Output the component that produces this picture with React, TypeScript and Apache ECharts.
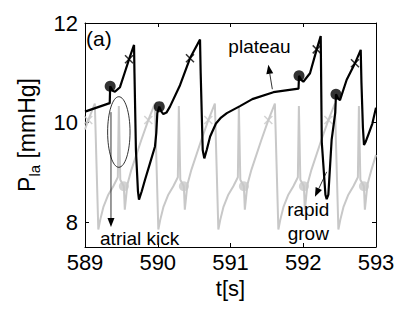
import React, { useEffect, useRef } from 'react';
import * as echarts from 'echarts';

const FONT = '"Liberation Sans", Arial, Helvetica, sans-serif';

const xTicks = [589, 590, 591, 592, 593];
const yTicks = [8, 10, 12];
const xLabel = 't[s]';

// black trace: [t (s), P_la (mmHg)]
const blackLine: number[][] = [
  [589.000, 10.22], [589.340, 10.39], [589.346, 10.73], [589.380, 10.64], [589.412, 10.62],
  [589.481, 10.71], [589.550, 11.02], [589.605, 11.27], [589.674, 11.56], [589.680, 11.00],
  [589.700, 9.45], [589.728, 8.62], [589.742, 8.45], [589.780, 8.62], [589.825, 8.85],
  [589.893, 9.18], [589.962, 9.52], [589.980, 9.79], [589.994, 10.19], [590.021, 10.32],
  [590.050, 10.22], [590.077, 10.17], [590.120, 10.20], [590.168, 10.32], [590.306, 10.75],
  [590.443, 11.29], [590.581, 11.67], [590.590, 11.00], [590.618, 9.45], [590.640, 9.28],
  [590.673, 9.45], [590.720, 9.72], [590.800, 9.98], [590.870, 10.10], [590.950, 10.19],
  [591.130, 10.33], [591.300, 10.47], [591.590, 10.61], [591.935, 10.68], [591.942, 10.94],
  [591.975, 10.85], [592.001, 10.82], [592.093, 10.99], [592.185, 11.47], [592.240, 11.74],
  [592.255, 9.60], [592.305, 8.55], [592.322, 8.46], [592.345, 8.55], [592.390, 9.65],
  [592.440, 10.20], [592.450, 10.57], [592.480, 10.48], [592.505, 10.45], [592.597, 10.86],
  [592.711, 11.19], [592.790, 11.46], [592.800, 10.80], [592.820, 9.90], [592.835, 9.55],
  [592.860, 9.62], [592.900, 9.78], [592.950, 9.98], [593.000, 10.30],
];
const blackDots: number[][] = [[589.346, 10.73], [590.021, 10.32], [591.942, 10.94], [592.450, 10.57]];
const blackCrosses: number[][] = [[589.605, 11.27], [590.443, 11.29], [592.185, 11.47], [592.711, 11.19]];

// gray trace
const grayLine: number[][] = [
  [589.000, 9.86], [589.045, 10.05], [589.135, 10.38],
  [589.183, 7.85], [589.210, 8.05], [589.252, 8.30], [589.320, 8.55], [589.389, 8.72], [589.451, 8.90],
  [589.465, 10.33], [589.485, 8.85], [589.534, 8.72], [589.547, 8.25], [589.582, 8.75], [589.637, 9.05],
  [589.774, 9.65], [589.870, 10.05], [589.960, 10.38],
  [590.008, 7.85], [590.035, 8.05], [590.077, 8.30], [590.145, 8.55], [590.214, 8.72], [590.276, 8.90],
  [590.290, 10.33], [590.310, 8.85], [590.359, 8.72], [590.372, 8.25], [590.407, 8.75], [590.462, 9.05],
  [590.599, 9.65], [590.695, 10.05], [590.785, 10.38],
  [590.833, 7.85], [590.860, 8.05], [590.902, 8.30], [590.970, 8.55], [591.039, 8.72], [591.101, 8.90],
  [591.115, 10.33], [591.135, 8.85], [591.184, 8.72], [591.197, 8.25], [591.232, 8.75], [591.287, 9.05],
  [591.424, 9.65], [591.520, 10.05], [591.610, 10.38],
  [591.658, 7.85], [591.685, 8.05], [591.727, 8.30], [591.795, 8.55], [591.864, 8.72], [591.926, 8.90],
  [591.940, 10.33], [591.960, 8.85], [592.009, 8.72], [592.022, 8.25], [592.057, 8.75], [592.112, 9.05],
  [592.249, 9.65], [592.345, 10.05], [592.435, 10.38],
  [592.483, 7.85], [592.510, 8.05], [592.552, 8.30], [592.620, 8.55], [592.689, 8.72], [592.751, 8.90],
  [592.765, 10.33], [592.785, 8.85], [592.834, 8.72], [592.847, 8.25], [592.882, 8.75], [592.937, 9.05],
  [593.000, 9.35],
];
const grayDots: number[][] = [[589.534, 8.72], [590.359, 8.72], [591.184, 8.72], [592.009, 8.72], [592.834, 8.72]];
const grayCrosses: number[][] = [[589.045, 10.05], [589.870, 10.05], [590.695, 10.05], [591.520, 10.05], [592.345, 10.05]];

// annotations (data coordinates)
const labelTexts = ['(a)', 'plateau', 'atrial kick', 'rapid', 'grow'];
const labelAnchors: number[][] = [[589.014, 11.68], [591.399, 11.52], [589.751, 7.68], [592.069, 8.26], [592.069, 7.78]];
const labelAligns = ['left', 'center', 'center', 'center', 'center'];
const arrowStarts: number[][] = [[591.575, 10.67], [589.357, 10.21], [592.322, 9.01]];
const arrowEnds: number[][] = [[591.520, 11.16], [589.357, 7.90], [592.161, 8.51]];
const ellipseCenter = [589.465, 9.81];
const ellipseHalf = [0.154, 0.709];

const GRAY = '#c8c8c8';
const CROSS = 'path://M0 0L10 10M10 0L0 10';

export default function App() {
  const ref = useRef<HTMLDivElement>(null);
  useEffect(() => {
    if (!ref.current) return;
    const chart = echarts.init(ref.current, null, { renderer: 'svg' });
    const axisLine = { show: true, onZero: false, lineStyle: { color: '#000', width: 1 } };
    const tick = { show: true, inside: true, length: 4, lineStyle: { color: '#000', width: 1 } };
    chart.setOption({
      animation: false,
      backgroundColor: '#fff',
      grid: { left: 85, top: 23, right: 39, bottom: 66, containLabel: false },
      xAxis: [
        {
          type: 'value', min: xTicks[0], max: xTicks[xTicks.length - 1], interval: 1, position: 'bottom',
          axisLine, axisTick: tick, splitLine: { show: false },
          axisLabel: { color: '#000', fontSize: 22, fontFamily: FONT, margin: 4 },
          name: xLabel, nameLocation: 'middle', nameGap: 27,
          nameTextStyle: { color: '#000', fontSize: 22, fontFamily: FONT },
        },
        {
          type: 'value', min: xTicks[0], max: xTicks[xTicks.length - 1], interval: 1, position: 'top',
          axisLine, axisTick: tick, splitLine: { show: false }, axisLabel: { show: false },
        },
      ],
      yAxis: [
        {
          type: 'value', min: 7.5, max: 12, position: 'left',
          axisLine, axisTick: { ...tick, customValues: yTicks }, splitLine: { show: false },
          axisLabel: { customValues: yTicks, color: '#000', fontSize: 22, fontFamily: FONT, margin: 7 },
          name: '{a|P}{b|la}{a| [mmHg]}', nameLocation: 'middle', nameGap: 43,
          nameTextStyle: {
            color: '#000', fontFamily: FONT,
            rich: {
              a: { fontSize: 23, lineHeight: 30, fontFamily: FONT, color: '#000' },
              b: { fontSize: 15, lineHeight: 15, verticalAlign: 'bottom', fontFamily: FONT, color: '#000' },
            },
          },
        },
        {
          type: 'value', min: 7.5, max: 12, position: 'right',
          axisLine, axisTick: { ...tick, customValues: yTicks }, splitLine: { show: false },
          axisLabel: { show: false },
        },
      ],
      series: [
        { type: 'line', data: grayLine, showSymbol: false, symbol: 'none', lineStyle: { color: GRAY, width: 2 }, z: 2, silent: true },
        { type: 'scatter', data: grayDots, symbol: 'circle', symbolSize: 10, itemStyle: { color: GRAY }, z: 3 },
        { type: 'scatter', data: grayCrosses, symbol: CROSS, symbolSize: 8, itemStyle: { color: GRAY, borderColor: GRAY, borderWidth: 1.5 }, z: 3 },
        { type: 'line', data: blackLine, showSymbol: false, symbol: 'none', lineStyle: { color: '#000', width: 2.2 }, z: 4, silent: true },
        { type: 'scatter', data: blackDots, symbol: 'circle', symbolSize: 11, itemStyle: { color: '#000' }, z: 5 },
        { type: 'scatter', data: blackCrosses, symbol: CROSS, symbolSize: 8, itemStyle: { color: '#000', borderColor: '#000', borderWidth: 1.5 }, z: 5 },
      ],
    });

    const px = (p: number[]) => chart.convertToPixel({ xAxisIndex: 0, yAxisIndex: 0 }, p) as number[];
    const graphics: any[] = [];
    labelTexts.forEach((t, i) => {
      const [x, y] = px(labelAnchors[i]);
      graphics.push({
        type: 'text', x, y, z: 10,
        style: { text: t, fill: '#000', font: `${i === 0 ? 21 : 19}px ${FONT}`, align: labelAligns[i], verticalAlign: 'middle' },
      });
    });
    arrowStarts.forEach((s, i) => {
      const [x1, y1] = px(s);
      const [x2, y2] = px(arrowEnds[i]);
      const len = Math.hypot(x2 - x1, y2 - y1);
      const dx = (x2 - x1) / len, dy = (y2 - y1) / len;
      const L = 9, W = 3.5;
      const bx = x2 - dx * L, by = y2 - dy * L;
      graphics.push({ type: 'line', z: 10, shape: { x1, y1, x2: bx, y2: by }, style: { stroke: '#000', lineWidth: 0.8 } });
      graphics.push({
        type: 'polygon', z: 10,
        shape: { points: [[x2, y2], [bx - dy * W, by + dx * W], [bx + dy * W, by - dx * W]] },
        style: { fill: '#000' },
      });
    });
    const [cx, cy] = px(ellipseCenter);
    const [ex, ey] = px([ellipseCenter[0] + ellipseHalf[0], ellipseCenter[1] + ellipseHalf[1]]);
    graphics.push({
      type: 'ellipse', z: 10,
      shape: { cx, cy, rx: Math.abs(ex - cx), ry: Math.abs(ey - cy) },
      style: { fill: 'none', stroke: '#000', lineWidth: 0.8 },
    });
    chart.setOption({ graphic: graphics });

    return () => chart.dispose();
  }, []);
  return <div ref={ref} style={{ position: 'fixed', left: 0, top: 0, width: 415, height: 313 }} />;
}
